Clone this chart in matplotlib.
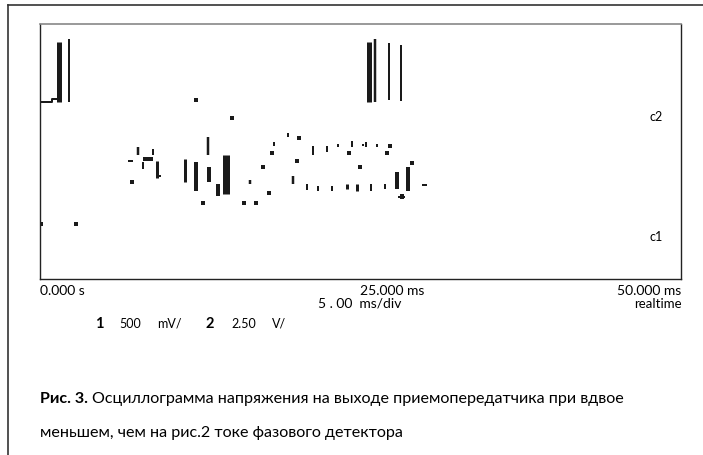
import matplotlib
matplotlib.use("Agg")
from matplotlib import pyplot as plt
from matplotlib.lines import Line2D

plt.rcParams['font.family'] = ['Lato', 'DejaVu Sans']

W, H = 703, 456

# Impulspakete oben (Kanal c2)
burst_t = [1.52, 2.26, 25.7, 26.17, 27.22, 28.16]
burst_hi = [0.93, 0.94, 0.93, 0.94, 0.926, 0.918]
burst_lo = [0.695, 0.695, 0.695, 0.695, 0.703, 0.70]

# Stufe am linken Rand
step_t = [0.0, 0.9, 0.9, 1.3]
step_v = [0.695, 0.695, 0.705, 0.705]

# kurze senkrechte Striche der Spur
seg_t = [7.68, 8.0, 8.85, 9.13, 11.31, 12.13, 13.14, 13.22, 14.51, 13.88,
         16.38, 18.25, 19.35, 19.74, 21.3, 20.83, 21.69, 22.39, 22.78, 23.25,
         24.34, 23.95, 24.73, 25.43, 25.82, 26.29, 26.91, 27.81, 28.24, 28.67]
seg_hi = [0.516, 0.457, 0.508, 0.461, 0.469, 0.457, 0.555, 0.4375, 0.488, 0.371,
          0.39, 0.539, 0.574, 0.402, 0.52, 0.371, 0.363, 0.52, 0.363, 0.531,
          0.543, 0.371, 0.371, 0.539, 0.371, 0.531, 0.371, 0.418, 0.332, 0.4375]
seg_lo = [0.488, 0.430, 0.488, 0.398, 0.379, 0.344, 0.488, 0.379, 0.332, 0.324,
          0.371, 0.52, 0.555, 0.371, 0.488, 0.348, 0.344, 0.5, 0.344, 0.516,
          0.516, 0.352, 0.344, 0.516, 0.344, 0.516, 0.352, 0.352, 0.313, 0.344]

# kurze waagerechte Striche
dash_t0 = [6.86, 8.03, 9.13, 25.1, 27.9, 29.8]
dash_t1 = [7.25, 8.81, 9.44, 25.3, 28.5, 30.19]
dash_v = [0.461, 0.469, 0.402, 0.527, 0.32, 0.367]

# einzelne Punkte
dot_t = [7.18, 12.71, 15.91, 16.85, 17.4, 17.86, 18.1, 20.2, 20.05, 24.1,
         24.96, 27.07, 27.3, 29.02, 12.17, 14.98, 0.08, 2.81]
dot_v = [0.379, 0.30, 0.30, 0.30, 0.441, 0.336, 0.496, 0.551, 0.461, 0.496,
         0.441, 0.496, 0.52, 0.453, 0.703, 0.633, 0.215, 0.215]

# Beschriftung
x_ticks = [0, 25, 50]
x_labels = ['0.000 s', '25.000 ms', '50.000 ms']
chan_labels = ['c2', 'c1']
chan_v = [0.64, 0.17]

# Linienbreiten (px) nur fuer die Darstellung
burst_px = [5, 2, 5, 2.5, 2, 2]
seg_px = [2.5, 2, 2, 3, 3, 4, 2.5, 4, 7, 4,
          2.5, 2, 2, 2.5, 2, 2, 2, 2, 2, 2,
          2, 3, 3, 2, 2, 2, 2, 4, 4, 4]
dash_px = [2, 4, 2, 2, 2, 2]

pt = 0.72  # 1 px in Punkten bei dpi=100

fig = plt.figure(figsize=(W / 100, H / 100), dpi=100)


def fx(x):
    return x / W


def fy(y):
    return 1 - y / H


# aeusserer Rahmen (nur oben und links)
fig.add_artist(Line2D([fx(8), 1], [fy(6), fy(6)], color='#333333', lw=1.2))
fig.add_artist(Line2D([fx(8), fx(8)], [fy(6), 0], color='#333333', lw=1.2))

ax = fig.add_axes([fx(40), fy(280), (681 - 40) / W, (280 - 25) / H])
ax.set_xlim(0, 50)
ax.set_ylim(0, 1)
ax.set_xticks([])
ax.set_yticks([])
for s in ['left', 'bottom', 'right']:
    ax.spines[s].set_color('#222222')
    ax.spines[s].set_linewidth(1.0)
ax.spines['top'].set_color('#888888')
ax.spines['top'].set_linewidth(1.2)

ax.vlines(burst_t, burst_lo, burst_hi, colors='#1a1a1a',
          linewidths=[p * pt for p in burst_px])
ax.plot(step_t, step_v, color='#1a1a1a', lw=2 * pt)
ax.vlines(seg_t, seg_lo, seg_hi, colors='#1a1a1a',
          linewidths=[p * pt for p in seg_px])
ax.hlines(dash_v, dash_t0, dash_t1, colors='#1a1a1a',
          linewidths=[p * pt for p in dash_px])
ax.plot(dot_t, dot_v, 's', color='#1a1a1a', ms=2.4, mew=0)

for lab, v in zip(chan_labels, chan_v):
    ax.text(48.6, v, lab, ha='right', va='center', fontsize=9)

tick_ha = ['left', 'left', 'right']
for t, lab, ha in zip(x_ticks, x_labels, tick_ha):
    ax.text(t, -0.02, lab, ha=ha, va='top', fontsize=10, clip_on=False)

fig.text(fx(318), fy(303), '5 . 00  ms/div', ha='left', va='center', fontsize=10)
fig.text(fx(682), fy(304), 'realtime', ha='right', va='center', fontsize=9.5)

# Kanaleinstellungen
fig.text(fx(95), fy(324), '1', fontsize=10.5, fontweight='bold', va='center')
fig.text(fx(119), fy(324), '500', fontsize=9, va='center')
fig.text(fx(157), fy(324), 'mV/', fontsize=9, va='center')
fig.text(fx(206), fy(324), '2', fontsize=10.5, fontweight='bold', va='center')
fig.text(fx(231), fy(324), '2.50', fontsize=9, va='center')
fig.text(fx(272), fy(324), 'V/', fontsize=9, va='center')

# Bildunterschrift
t1 = fig.text(fx(40), fy(399), 'Рис. 3.', fontsize=11.6, fontweight='bold',
              va='center')
fig.canvas.draw()
bb = t1.get_window_extent()
fig.text(bb.x1 / W + fx(4), fy(399),
         'Осциллограмма напряжения на выходе приемопередатчика при вдвое',
         fontsize=11.6, va='center')
fig.text(fx(40), fy(433), 'меньшем, чем на рис.2 токе фазового детектора',
         fontsize=11.6, va='center')

fig.savefig('out.png', dpi=100)
